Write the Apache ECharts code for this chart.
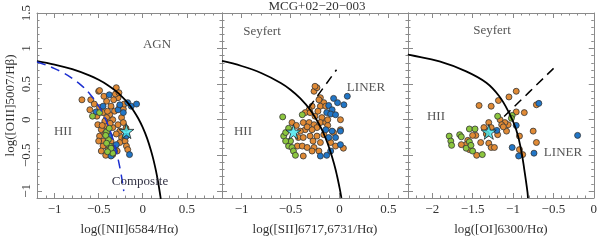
<!DOCTYPE html>
<html><head><meta charset="utf-8">
<script src="https://cdn.jsdelivr.net/npm/echarts@6/dist/echarts.min.js"></script>
<style>html,body{margin:0;padding:0;background:#fff}#c{width:600px;height:241px}</style>
</head><body><div id="c"></div>
<script>
// ---------- data ----------
const title = 'MCG+02\u221220\u2212003';
const xNames = ['log([NII]6584/H\u03b1)', 'log([SII]6717,6731/H\u03b1)', 'log([OI]6300/H\u03b1)'];
const yName = 'log([OIII]5007/H\u03b2)';
const xRanges = [[-1.2, 0.9], [-1.2, 0.7], [-2.3, 0]];
const yRange = [-1.1, 1.5];

// Panel 1: [NII]
const orange1 = [[-0.30,0.45],[-0.50,0.40],[-0.59,0.28],[-0.69,0.28],[-0.55,0.22],[-0.41,0.26],[-0.28,0.31],[-0.36,0.19],[-0.26,0.19],[-0.32,0.12],[-0.375,0.07],[-0.45,0.10],[-0.49,0.17],[-0.41,0.03],[-0.34,0.0],[-0.24,0.03],[-0.28,-0.07],[-0.22,-0.04],[-0.51,-0.07],[-0.47,-0.14],[-0.41,-0.09],[-0.34,-0.11],[-0.26,-0.16],[-0.24,-0.25],[-0.49,-0.23],[-0.45,-0.30],[-0.26,-0.32],[-0.20,-0.30],[-0.185,-0.37],[-0.45,-0.37],[-0.39,-0.42],[-0.47,-0.44],[-0.34,-0.49],[-0.17,-0.42],[-0.49,0.41],[-0.31,0.36],[-0.60,0.14],[-0.43,-0.02],[-0.37,-0.05],[-0.30,-0.20],[-0.43,-0.20],[-0.38,-0.27],[-0.31,-0.37],[-0.42,-0.50],[-0.36,-0.30],[-0.22,0.15],[-0.19,-0.12],[-0.33,0.28],[-0.44,0.33],[-0.52,0.05],[-0.40,0.12],[-0.29,-0.44],[-0.50,-0.30],[-0.27,0.38],[-0.21,0.22],[-0.46,-0.08]];
const blue1 = [[-0.38,0.35],[-0.17,0.24],[-0.13,0.19],[-0.45,0.19],[-0.53,0.11],[-0.28,0.14],[-0.22,0.10],[-0.26,0.21],[-0.375,-0.23],[-0.30,-0.35],[-0.32,-0.44],[-0.15,-0.49],[-0.36,-0.51],[-0.07,0.22],[-0.185,-0.23]];
const green1 = [[-0.57,0.05],[-0.49,0.10],[-0.41,-0.17],[-0.39,-0.28],[-0.375,-0.37],[-0.41,-0.33],[-0.34,-0.47],[-0.42,-0.22],[-0.38,-0.12],[-0.36,-0.40],[-0.40,-0.45]];
const star1 = [[-0.185,-0.16]];
const kewNII = [[-1.2,0.825],[-1.0,0.775],[-0.8,0.71],[-0.6,0.62],[-0.5,0.561],[-0.4,0.489],[-0.3,0.398],[-0.2,0.28],[-0.15,0.206],[-0.1,0.12],[-0.05,0.017],[0,-0.108],[0.05,-0.262],[0.1,-0.459],[0.125,-0.578],[0.15,-0.716],[0.175,-0.878],[0.2,-1.069],[0.205,-1.112]];
const kauNII = [[-1.2,0.812],[-1.1,0.770],[-1.0,0.719],[-0.9,0.658],[-0.8,0.582],[-0.7,0.487],[-0.6,0.362],[-0.5,0.191],[-0.45,0.08],[-0.4,-0.056],[-0.35,-0.225],[-0.3,-0.443],[-0.275,-0.577],[-0.25,-0.733],[-0.23,-0.879],[-0.215,-1.002]];

// Panel 2: [SII]
const orange2 = [[-0.26,0.40],[-0.23,0.45],[-0.195,0.31],[-0.16,0.24],[-0.28,0.19],[-0.195,0.19],[-0.31,0.14],[-0.35,0.10],[-0.30,0.10],[-0.25,0.05],[-0.18,0.03],[-0.37,-0.04],[-0.31,-0.04],[-0.26,-0.07],[-0.195,-0.04],[-0.14,-0.04],[-0.23,-0.11],[-0.28,-0.14],[-0.35,-0.14],[-0.40,-0.16],[-0.485,-0.04],[-0.42,-0.25],[-0.37,-0.25],[-0.30,-0.23],[-0.23,-0.23],[-0.16,-0.21],[-0.43,-0.37],[-0.38,-0.37],[-0.33,-0.39],[-0.26,-0.39],[-0.195,-0.32],[-0.21,-0.44],[-0.37,-0.51],[-0.09,-0.32],[-0.04,-0.37],[0.01,-0.14],[0.01,0.0],[-0.28,-0.44],[-0.25,0.47],[-0.12,-0.08],[-0.33,-0.10],[-0.27,-0.30],[-0.12,0.00],[-0.44,-0.08],[-0.22,0.12],[-0.21,0.28],[-0.14,0.19],[-0.06,-0.18],[0.04,-0.40]];
const blue2 = [[0.08,0.33],[-0.02,0.24],[-0.11,0.20],[-0.075,0.14],[0.045,0.21],[-0.13,0.10],[-0.09,0.08],[-0.04,0.07],[-0.14,-0.14],[-0.075,-0.16],[-0.11,-0.25],[-0.04,-0.25],[-0.09,-0.44],[-0.195,-0.51],[0.01,-0.16],[0.01,-0.35],[-0.13,-0.50],[-0.06,0.30]];
const green2 = [[-0.58,0.04],[-0.38,0.07],[-0.57,-0.23],[-0.55,-0.18],[-0.52,-0.37],[-0.485,-0.39],[-0.47,-0.44],[-0.45,-0.50],[-0.50,-0.30],[-0.55,-0.30],[-0.52,-0.12]];
const star2 = [[-0.47,-0.17]];
const kewSII = [[-1.2,0.826],[-1.0,0.755],[-0.8,0.657],[-0.6,0.517],[-0.5,0.422],[-0.4,0.30],[-0.3,0.139],[-0.2,-0.085],[-0.15,-0.232],[-0.1,-0.414],[-0.05,-0.646],[-0.025,-0.787],[0,-0.95],[0.01,-1.023],[0.02,-1.10]];
const sepSII = [[-0.315,0.165],[-0.03,0.703]];

// Panel 3: [OI]
const orange3 = [[-0.96,0.40],[-1.05,0.32],[-1.18,0.27],[-1.42,0.20],[-1.27,0.19],[-0.71,0.21],[-0.86,0.10],[-0.96,0.11],[-1.16,0.0],[-1.06,-0.07],[-1.10,-0.04],[-1.14,-0.07],[-1.30,-0.04],[-1.36,-0.11],[-1.27,-0.11],[-1.08,-0.16],[-1.19,-0.21],[-0.92,-0.23],[-0.75,-0.16],[-0.71,-0.32],[-1.40,-0.32],[-1.30,-0.33],[-1.27,-0.39],[-1.23,-0.39],[-1.46,-0.22],[-1.50,-0.22],[-1.56,-0.29],[-1.58,-0.35],[-1.64,-0.35],[-1.54,-0.42],[-1.45,-0.50],[-0.92,-0.42],[-0.88,-0.49],[-1.33,-0.20],[-1.12,-0.10]];
const blue3 = [[-0.68,0.23],[-1.20,-0.15],[-0.96,-0.08],[-1.01,-0.39],[-0.93,-0.51],[-0.74,-0.47],[-0.20,-0.22]];
const green3 = [[-1.19,0.05],[-1.01,0.06],[-1.54,-0.13],[-1.66,-0.21],[-1.79,-0.23],[-1.77,-0.30],[-1.76,-0.36],[-1.64,-0.24],[-1.54,-0.31],[-1.58,-0.40],[-1.50,-0.44],[-1.38,-0.49],[-1.52,-0.36],[-1.02,0.02],[-1.47,-0.13]];
const star3 = [[-1.30,-0.17]];
const kewOI = [[-2.30,0.92],[-2.28,0.91],[-1.91,0.82],[-1.58,0.68],[-1.33,0.52],[-1.17,0.33],[-1.05,0.10],[-0.96,-0.14],[-0.90,-0.42],[-0.86,-0.70],[-0.82,-1.02],[-0.815,-1.10]];
const sepOI = [[-1.11,0.045],[-0.49,0.73]];

// ---------- styling ----------
const FRAME = '#8a8a8a', TXT = '#333', LBL = '#555';
const SERIF = '"Liberation Serif","DejaVu Serif",serif';
const ORANGE = '#e08a35', BLUE = '#2176c7', GREEN = '#8cc63f', CYAN = '#3ee4ee';
const STAR = 'path://M50,0 L61,35 L98,35 L68,57 L79,91 L50,70 L21,91 L32,57 L2,35 L39,35 Z';

function fmt(v) {
  if (Math.abs(v * 2 - Math.round(v * 2)) > 1e-6) return '';
  const r = Math.round(v * 10) / 10;
  if (r === 0) return '0';
  return (r < 0 ? '\u2212' : '') + String(Math.abs(r));
}

const grids = [
  {left: 37, top: 13, width: 185, height: 186},
  {left: 222, top: 13, width: 186, height: 186},
  {left: 408, top: 13, width: 187, height: 186}
];
const xAxes = [], yAxes = [];
xRanges.forEach((r, gi) => {
  const base = {gridIndex: gi, type: 'value', min: r[0], max: r[1], splitLine: {show: false}};
  const major = (pos, labels) => Object.assign({}, base, {
    position: pos, splitNumber: 4,
    axisLine: {show: true, onZero: false, lineStyle: {color: FRAME, width: 1}},
    axisTick: {show: true, inside: true, length: 5, lineStyle: {color: FRAME, width: 1}},
    axisLabel: labels ? {show: true, color: TXT, fontFamily: SERIF, fontSize: 13, margin: 5, formatter: fmt, showMinLabel: false, showMaxLabel: gi === 2} : {show: false}
  }, labels ? {name: xNames[gi], nameLocation: 'middle', nameGap: 25, nameTextStyle: {color: TXT, fontFamily: SERIF, fontSize: 13}} : {});
  const minor = (pos) => Object.assign({}, base, {
    position: pos, interval: 0.1,
    axisLine: {show: false, onZero: false},
    axisTick: {show: true, inside: true, length: 2.5, lineStyle: {color: FRAME, width: 1}},
    axisLabel: {show: false}
  });
  xAxes.push(major('bottom', true), minor('bottom'), major('top', false), minor('top'));

  const ybase = {gridIndex: gi, type: 'value', min: yRange[0], max: yRange[1], splitLine: {show: false}};
  const ymajor = (pos, labels) => Object.assign({}, ybase, {
    position: pos, splitNumber: 4,
    axisLine: {show: true, onZero: false, lineStyle: {color: FRAME, width: 1}},
    axisTick: {show: true, inside: true, length: 5, lineStyle: {color: FRAME, width: 1}},
    axisLabel: labels ? {show: true, rotate: 90, color: TXT, fontFamily: SERIF, fontSize: 13, margin: 4, formatter: fmt, showMinLabel: false, showMaxLabel: true} : {show: false}
  }, labels ? {name: yName, nameLocation: 'middle', nameGap: 20, nameTextStyle: {color: TXT, fontFamily: SERIF, fontSize: 13}} : {});
  const yminor = (pos) => Object.assign({}, ybase, {
    position: pos, interval: 0.1,
    axisLine: {show: false, onZero: false},
    axisTick: {show: true, inside: true, length: 2.5, lineStyle: {color: FRAME, width: 1}},
    axisLabel: {show: false}
  });
  yAxes.push(ymajor('left', gi === 0), yminor('left'), ymajor('right', false), yminor('right'));
});

const series = [];
function dots(gi, data, color) {
  series.push({type: 'scatter', xAxisIndex: gi * 4, yAxisIndex: gi * 4, data: data, symbol: 'circle', symbolSize: 6,
    itemStyle: {color: color, borderColor: '#333', borderWidth: 0.8, opacity: 1}, z: 3, silent: true});
}
function curve(gi, data, color, dashed, width) {
  series.push({type: 'line', xAxisIndex: gi * 4, yAxisIndex: gi * 4, data: data, symbol: 'none', smooth: 0.4, clip: true,
    lineStyle: {color: color, width: width, type: dashed ? [9, 6] : 'solid'}, z: 5, silent: true});
}
function star(gi, data) {
  series.push({type: 'scatter', xAxisIndex: gi * 4, yAxisIndex: gi * 4, data: data, symbol: STAR, symbolSize: 15,
    itemStyle: {color: CYAN, borderColor: '#222', borderWidth: 1}, z: 10, silent: true});
}
dots(0, orange1, ORANGE); dots(0, blue1, BLUE); dots(0, green1, GREEN);
curve(0, kewNII, '#000', false, 1.8); curve(0, kauNII, '#1c2fd0', true, 1.5); star(0, star1);
dots(1, orange2, ORANGE); dots(1, blue2, BLUE); dots(1, green2, GREEN);
curve(1, kewSII, '#000', false, 1.8); curve(1, sepSII, '#000', true, 1.5); star(1, star2);
dots(2, orange3, ORANGE); dots(2, blue3, BLUE); dots(2, green3, GREEN);
curve(2, kewOI, '#000', false, 1.8); curve(2, sepOI, '#000', true, 1.5); star(2, star3);

const FONT = '13px "Liberation Serif", serif';
const txt = (s, x, y, color) => ({type: 'text', x: x, y: y, silent: true, z: 20,
  style: {text: s, fill: color || LBL, font: FONT, align: 'center', verticalAlign: 'middle'}});

const chart = echarts.init(document.getElementById('c'), null, {renderer: 'canvas'});
chart.setOption({
  animation: false,
  backgroundColor: '#fff',
  grid: grids,
  xAxis: xAxes,
  yAxis: yAxes,
  series: series,
  graphic: [
    txt(title, 317, 7, TXT),
    txt('AGN', 157, 45), txt('HII', 63, 132), txt('Composite', 140, 182, '#334'),
    txt('Seyfert', 262, 32), txt('LINER', 366, 88), txt('HII', 243, 132),
    txt('Seyfert', 492, 31), txt('HII', 436, 117), txt('LINER', 563, 153)
  ]
});
</script></body></html>
